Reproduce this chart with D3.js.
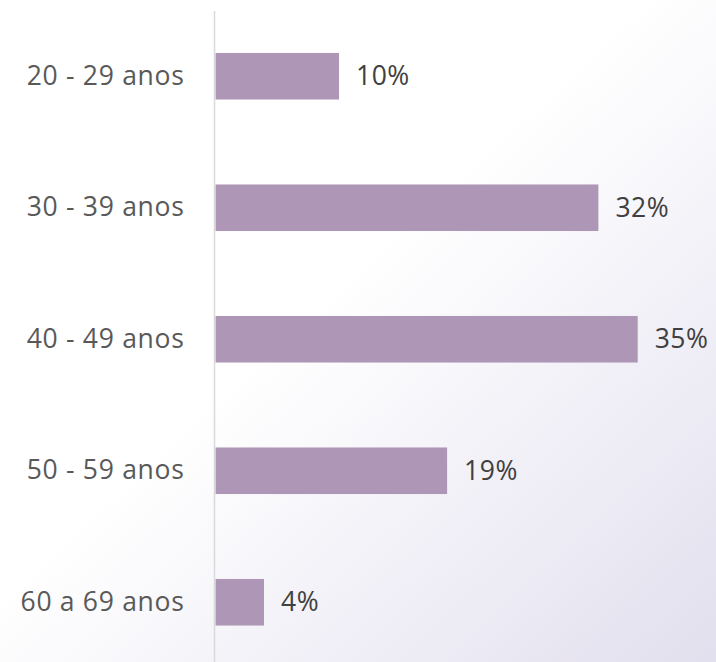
<!DOCTYPE html>
<html>
<head>
<meta charset="utf-8">
<script src="https://cdn.jsdelivr.net/npm/d3@7"></script>
<style>
  html, body { margin: 0; padding: 0; background: #fff; }
  svg { display: block; }
</style>
</head>
<body>
<svg id="chart" width="716" height="662"></svg>
<script>
const categories = ["20 - 29 anos", "30 - 39 anos", "40 - 49 anos", "50 - 59 anos", "60 a 69 anos"];
const values = [10.24, 31.74, 35.0, 19.2, 4.02];
const valueLabels = ["10%", "32%", "35%", "19%", "4%"];

const W = 716, H = 662;
const svg = d3.select("#chart");

const defs = svg.append("defs");
const grad = defs.append("linearGradient")
  .attr("id", "bg").attr("x1", 0).attr("y1", 0).attr("x2", 1).attr("y2", 1);
grad.append("stop").attr("offset", "0").attr("stop-color", "#ffffff");
grad.append("stop").attr("offset", "0.45").attr("stop-color", "#ffffff");
grad.append("stop").attr("offset", "1").attr("stop-color", "#e2dfee");
svg.append("rect").attr("width", W).attr("height", H).attr("fill", "url(#bg)");

const axisX = 215.5;
const x = d3.scaleLinear().domain([0, 35]).range([axisX, 637.7]);
const y = d3.scaleBand().domain(categories).range([10.5, 668])
  .paddingInner(0.646).paddingOuter(0.323);

const data = categories.map((c, i) => ({ c, v: values[i], l: valueLabels[i] }));

svg.append("g").selectAll("rect").data(data).join("rect")
  .attr("x", x(0))
  .attr("y", d => y(d.c))
  .attr("width", d => x(d.v) - x(0))
  .attr("height", y.bandwidth())
  .attr("fill", "#ae96b6");

svg.append("g").selectAll("text").data(data).join("text")
  .attr("x", d => x(d.v) + 17)
  .attr("y", d => y(d.c) + y.bandwidth() / 2)
  .attr("dy", "0.34em")
  .attr("font-family", "'Open Sans', sans-serif")
  .attr("font-size", 26.5)
  .attr("letter-spacing", "0.5px")
  .attr("fill", "#404040")
  .text(d => d.l);

const yAxis = d3.axisLeft(y).tickSize(0).tickPadding(31);
const ag = svg.append("g").attr("transform", `translate(${axisX},0)`).call(yAxis);
ag.select(".domain").remove();
ag.selectAll("text")
  .attr("font-family", "'Open Sans', sans-serif")
  .attr("font-size", 26.5)
  .attr("letter-spacing", "0.7px")
  .attr("fill", "#595959");

svg.append("line")
  .attr("x1", axisX - 1).attr("x2", axisX - 1)
  .attr("y1", 11).attr("y2", H)
  .attr("stroke", "#d9d9d9").attr("stroke-width", 1.5);
</script>
</body>
</html>
